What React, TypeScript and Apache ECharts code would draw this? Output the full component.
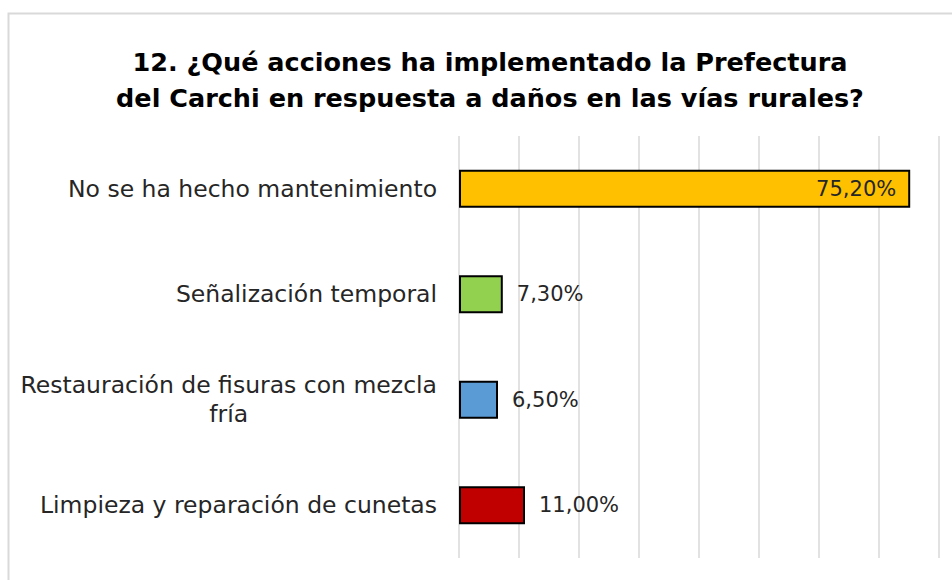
import React, { useEffect, useRef } from "react";
import * as echarts from "echarts";

const titleLines = [
  "12. ¿Qué acciones ha implementado la Prefectura",
  "del Carchi en respuesta a daños en las vías rurales?",
];
const categories = [
  "No se ha hecho mantenimiento",
  "Señalización temporal",
  "Restauración de fisuras con mezcla\nfría",
  "Limpieza y reparación de cunetas",
];
const values = [75.2, 7.3, 6.5, 11.0];
const colors = ["#FFC000", "#92D050", "#5B9BD5", "#C00000"];
const labelPositions = ["insideRight", "right", "right", "right"];

const FONT = "DejaVu Sans";

export default function App() {
  const ref = useRef<HTMLDivElement>(null);
  useEffect(() => {
    if (!ref.current) return;
    const chart = echarts.init(ref.current, null, { renderer: "svg" });
    chart.setOption({
      animation: false,
      backgroundColor: "#ffffff",
      title: {
        text: titleLines.join("\n"),
        left: 485,
        top: 39,
        textAlign: "center",
        textStyle: {
          fontFamily: FONT,
          fontWeight: "bold",
          fontSize: 25.5,
          lineHeight: 36,
          color: "#000000",
        },
      },
      graphic: [
        {
          type: "rect",
          left: 6,
          top: 11,
          shape: { width: 1000, height: 700 },
          style: { fill: "none", stroke: "#d9d9d9", lineWidth: 2 },
          z: -1,
        },
      ],
      grid: { left: 459, right: 13, top: 136, bottom: 22 },
      xAxis: {
        type: "value",
        min: 0,
        max: 80,
        interval: 10,
        axisLabel: { show: false },
        axisLine: { show: false },
        axisTick: { show: false },
        splitLine: { lineStyle: { color: "#d9d9d9", width: 1.5 } },
      },
      yAxis: {
        type: "category",
        inverse: true,
        data: categories,
        axisLine: { show: false },
        axisTick: { show: false },
        axisLabel: {
          margin: 22,
          fontFamily: FONT,
          fontSize: 23.5,
          color: "#262626",
          lineHeight: 29,
          formatter: (v: string) =>
            v
              .split("\n")
              .map((l) => `{c|${l}}`)
              .join("\n"),
          rich: {
            c: {
              align: "center",
              fontFamily: FONT,
              fontSize: 23.5,
              color: "#262626",
              lineHeight: 29,
            },
          },
        },
      },
      series: [
        {
          type: "bar",
          barWidth: 38,
          data: values.map((v, i) => ({
            value: v,
            itemStyle: { color: colors[i], borderColor: "#000000", borderWidth: 2 },
            label: { position: labelPositions[i] },
          })),
          label: {
            show: true,
            distance: 14,
            fontFamily: FONT,
            fontSize: 21,
            color: "#262626",
            formatter: (p: any) => `${p.value.toFixed(2).replace(".", ",")}%`,
          },
        },
      ],
    });
    return () => chart.dispose();
  }, []);
  return (
    <div
      ref={ref}
      style={{ position: "fixed", left: 0, top: 0, width: 952, height: 580 }}
    />
  );
}
